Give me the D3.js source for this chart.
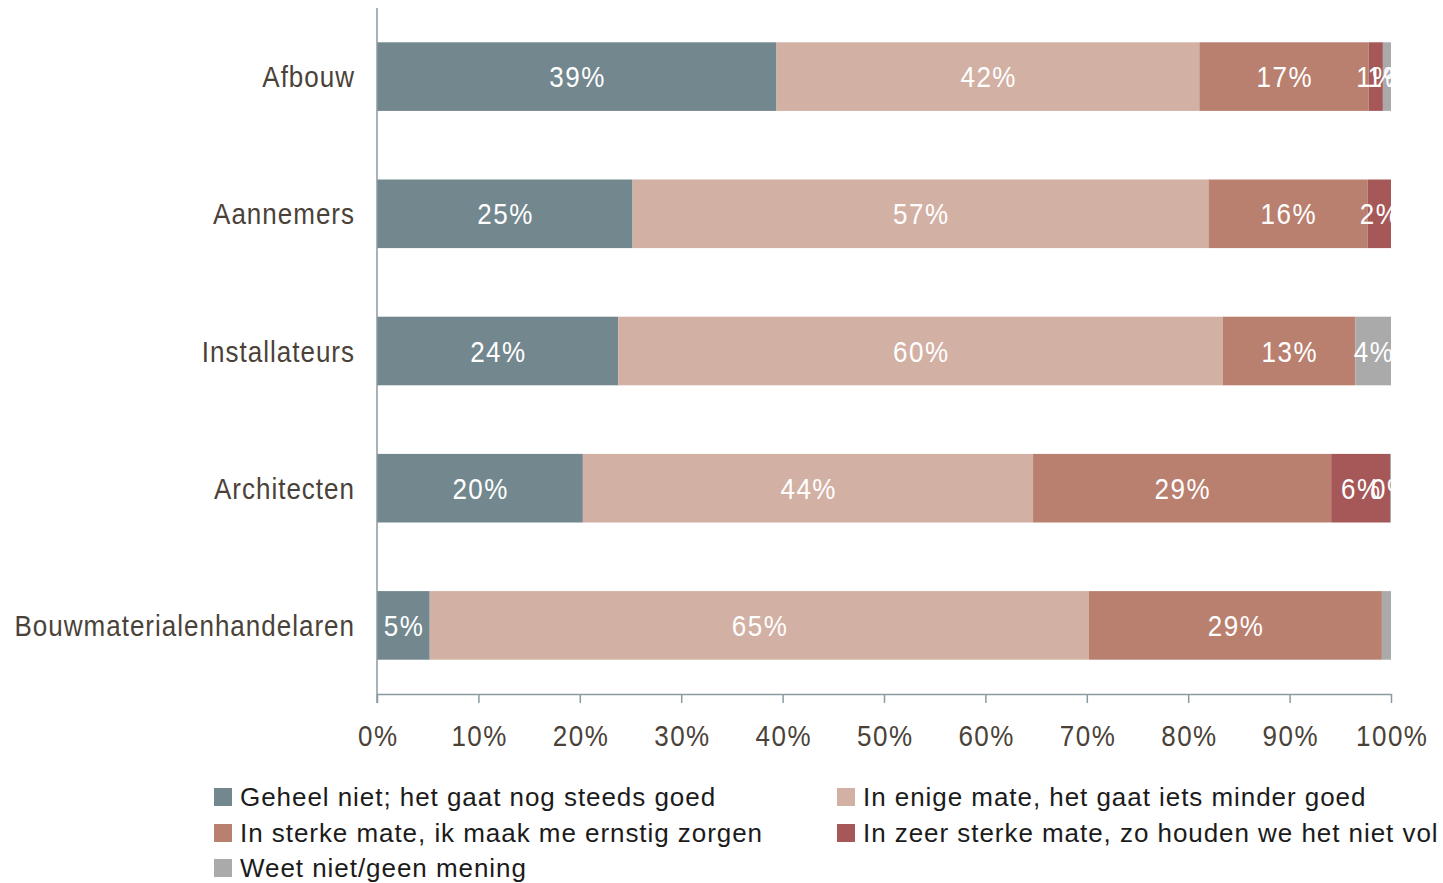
<!DOCTYPE html>
<html>
<head>
<meta charset="utf-8">
<script src="https://cdn.jsdelivr.net/npm/d3@7"></script>
<style>
  html, body { margin: 0; padding: 0; background: #fff; }
  svg { display: block; font-family: "Liberation Sans", Arial, sans-serif; }
</style>
</head>
<body>
<svg id="chart" width="1443" height="883"></svg>
<script>
// Sectors (rows of the stacked bar chart)
const categories = ["Afbouw", "Aannemers", "Installateurs", "Architecten", "Bouwmaterialenhandelaren"];

// Answer categories, in stacking order
const seriesNames = [
  "Geheel niet; het gaat nog steeds goed",
  "In enige mate, het gaat iets minder goed",
  "In sterke mate, ik maak me ernstig zorgen",
  "In zeer sterke mate, zo houden we het niet vol",
  "Weet niet/geen mening"
];
const seriesColors = ["#72878e", "#d2b0a3", "#b9806f", "#a65858", "#aaaaaa"];

// Shares per sector, in percent
const geheelNiet = [39.4, 25.2, 23.8, 20.3, 5.2];
const enigeMate  = [41.7, 56.8, 59.6, 44.4, 65.0];
const sterkeMate = [16.7, 15.7, 13.1, 29.4, 28.9];
const zeerSterk  = [1.4, 2.3, 0, 5.8, 0];
const weetNiet   = [0.8, 0, 3.5, 0.1, 0.9];

// Segments whose value label is left out
const unlabeled = [["Bouwmaterialenhandelaren", "Weet niet/geen mening"]];

const xTicks = [0, 10, 20, 30, 40, 50, 60, 70, 80, 90, 100];

const seriesValues = [geheelNiet, enigeMate, sterkeMate, zeerSterk, weetNiet];
const rows = categories.map((c, i) => {
  const r = { category: c };
  seriesNames.forEach((s, k) => { r[s] = seriesValues[k][i]; });
  return r;
});
const stacked = d3.stack().keys(seriesNames)(rows);

const svg = d3.select("#chart");
const plotLeft = 377, plotRight = 1391, plotTop = 8, plotBottom = 694;
const axisColor = "#8b9aa2";
const labelColor = "#4a4239";
const stretch = 1.13;

const x = d3.scaleLinear().domain([0, 100]).range([plotLeft, plotRight]);
const y = d3.scaleBand().domain(categories).range([plotTop, plotBottom])
  .paddingInner(0.5).paddingOuter(0.25);

// Bars
const layers = svg.append("g").selectAll("g").data(stacked).join("g")
  .attr("fill", (d, i) => seriesColors[i]);
layers.selectAll("rect").data(d => d.map(p => ({ p, key: d.key }))).join("rect")
  .attr("x", d => x(d.p[0]))
  .attr("y", d => y(d.p.data.category))
  .attr("width", d => Math.max(0, x(d.p[1]) - x(d.p[0])))
  .attr("height", y.bandwidth());

// Value labels, drawn above all bars
const isHidden = (cat, key) => unlabeled.some(u => u[0] === cat && u[1] === key);
const labelData = [];
stacked.forEach(layer => layer.forEach(p => {
  const v = p[1] - p[0];
  if (v > 0 && !isHidden(p.data.category, layer.key)) {
    labelData.push({ cx: (x(p[0]) + x(p[1])) / 2, cy: y(p.data.category) + y.bandwidth() / 2, v });
  }
}));
svg.append("g").selectAll("text").data(labelData).join("text")
  .attr("transform", d => `translate(${d.cx + 0.75},${d.cy}) scale(1,${stretch})`)
  .attr("text-anchor", "middle")
  .attr("dy", "0.36em")
  .attr("fill", "#ffffff")
  .style("font-size", "26px")
  .style("letter-spacing", "1.5px")
  .text(d => Math.round(d.v) + "%");

// Category axis
const yAxis = svg.append("g");
yAxis.append("line")
  .attr("x1", plotLeft).attr("x2", plotLeft).attr("y1", plotTop).attr("y2", plotBottom + 9)
  .attr("stroke", axisColor).attr("stroke-width", 1.5);
yAxis.selectAll("text").data(categories).join("text")
  .attr("transform", d => `translate(${plotLeft - 22},${y(d) + y.bandwidth() / 2}) scale(1,${stretch})`)
  .attr("text-anchor", "end")
  .attr("dy", "0.36em")
  .attr("fill", labelColor)
  .style("font-size", "26px")
  .style("letter-spacing", "1px")
  .text(d => d);

// Percentage axis
const xAxis = svg.append("g").attr("transform", `translate(0,${plotBottom})`)
  .call(d3.axisBottom(x).tickValues(xTicks).tickFormat(d => d + "%").tickSize(9).tickSizeOuter(0));
xAxis.select(".domain").attr("stroke", axisColor).attr("stroke-width", 1.5);
xAxis.selectAll(".tick line").attr("stroke", axisColor).attr("stroke-width", 1.5);
xAxis.selectAll(".tick text")
  .attr("y", 0).attr("dy", null)
  .attr("transform", `translate(0.75,44) scale(1,${stretch})`)
  .attr("fill", labelColor)
  .style("font-family", "\"Liberation Sans\", Arial, sans-serif")
  .style("font-size", "26px")
  .style("letter-spacing", "1.5px")
  .attr("dominant-baseline", "middle");

// Legend
const legendPos = [
  { sx: 214, ty: 797 }, { sx: 837, ty: 797 },
  { sx: 214, ty: 833 }, { sx: 837, ty: 833 },
  { sx: 214, ty: 868 }
];
const legend = svg.append("g").selectAll("g").data(seriesNames).join("g")
  .attr("transform", (d, i) => `translate(${legendPos[i].sx},${legendPos[i].ty})`);
legend.append("rect")
  .attr("x", 0).attr("y", -9).attr("width", 18).attr("height", 18)
  .attr("fill", (d, i) => seriesColors[i]);
legend.append("text")
  .attr("x", 26).attr("dy", "0.36em")
  .attr("fill", "#1b1b1b")
  .style("font-size", "26px")
  .style("letter-spacing", "0.95px")
  .text(d => d);
</script>
</body>
</html>
